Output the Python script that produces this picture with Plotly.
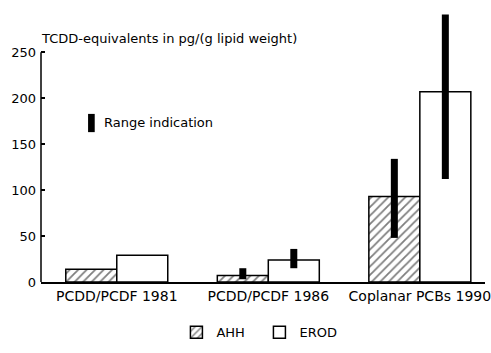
import plotly.graph_objects as go

categories = ["PCDD/PCDF 1981", "PCDD/PCDF 1986", "Coplanar PCBs 1990"]
ahh_values = [14, 7, 93]
erod_values = [29, 24, 207]
ahh_range_low = [None, 3, 48]
ahh_range_high = [None, 15, 134]
erod_range_low = [None, 15, 112]
erod_range_high = [None, 36, 291]
y_ticks = [0, 50, 100, 150, 200, 250]

FONT = "DejaVu Sans"
FS = 13


def err(vals, lo, hi):
    plus = [(h - v) if h is not None else 0 for v, h in zip(vals, hi)]
    minus = [(v - l) if l is not None else 0 for v, l in zip(vals, lo)]
    return plus, minus


ahh_plus, ahh_minus = err(ahh_values, ahh_range_low, ahh_range_high)
erod_plus, erod_minus = err(erod_values, erod_range_low, erod_range_high)

fig = go.Figure()
fig.add_trace(go.Bar(
    x=categories, y=ahh_values, name="AHH",
    marker=dict(color="white", line=dict(color="black", width=1.5),
                pattern=dict(shape="/", fgcolor="black", bgcolor="white",
                             size=6, solidity=0.3)),
    error_y=dict(type="data", symmetric=False, array=ahh_plus,
                 arrayminus=ahh_minus, color="black", thickness=7, width=0),
))
fig.add_trace(go.Bar(
    x=categories, y=erod_values, name="EROD",
    marker=dict(color="white", line=dict(color="black", width=1.5)),
    error_y=dict(type="data", symmetric=False, array=erod_plus,
                 arrayminus=erod_minus, color="black", thickness=7, width=0),
))

# y-axis line only up to the last tick
fig.add_shape(type="line", xref="paper", yref="y", x0=0, x1=0,
              y0=y_ticks[0], y1=y_ticks[-1], line=dict(color="black", width=1.5))

# "Range indication" key
fig.add_shape(type="rect", xref="paper", yref="paper",
              x0=0.106, x1=0.121, y0=0.551, y1=0.618,
              fillcolor="black", line=dict(width=0))
fig.add_annotation(text="Range indication", xref="paper", yref="paper",
                   x=0.137, y=0.585, xanchor="left", yanchor="middle",
                   showarrow=False, font=dict(family=FONT, size=FS, color="black"))

fig.add_annotation(text="TCDD-equivalents in pg/(g lipid weight)",
                   xref="paper", yref="paper", x=-0.004, y=0.895,
                   xanchor="left", yanchor="middle", showarrow=False,
                   font=dict(family=FONT, size=FS, color="black"))

fig.update_layout(
    width=491, height=353,
    margin=dict(l=41, r=6, t=10, b=60),
    paper_bgcolor="white", plot_bgcolor="white",
    barmode="group", bargap=0.327, bargroupgap=0,
    font=dict(family=FONT, size=FS, color="black"),
    showlegend=True,
    legend=dict(orientation="h", x=0.305, y=-0.185, xanchor="left",
                yanchor="middle", font=dict(family=FONT, size=FS),
                entrywidth=38, entrywidthmode="pixels", itemwidth=30),
    xaxis=dict(range=[-0.5, 2.43], showline=True, linecolor="black",
               linewidth=1.5, ticks="", showgrid=False, zeroline=False,
               automargin=False, tickfont=dict(family=FONT, size=14)),
    yaxis=dict(range=[0, 296], showline=False, tickvals=y_ticks,
               ticks="inside", ticklen=4, tickcolor="black", tickwidth=1.5,
               showgrid=False, zeroline=False, ticklabelstandoff=4,
               automargin=False, tickfont=dict(family=FONT, size=FS)),
)

fig.write_html("out.html")
